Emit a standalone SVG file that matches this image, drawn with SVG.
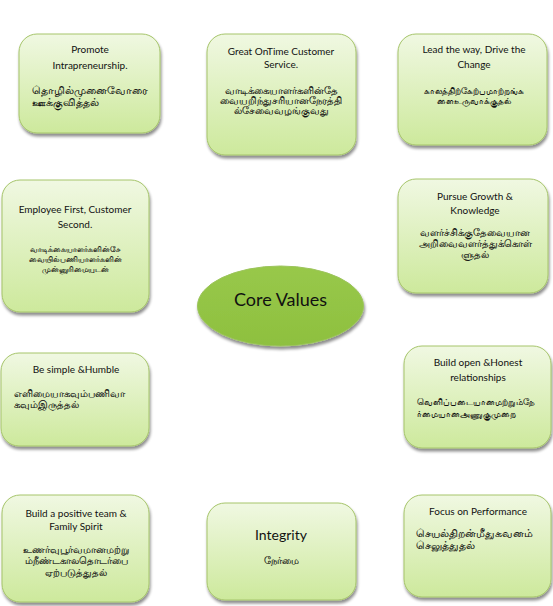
<svg xmlns="http://www.w3.org/2000/svg" width="553" height="606" viewBox="0 0 553 606">
<defs>
<linearGradient id="g" x1="0" y1="0" x2="0" y2="1">
<stop offset="0" stop-color="#f0f8e2"/>
<stop offset="1" stop-color="#cde99c"/>
</linearGradient>
<linearGradient id="ge" x1="0" y1="0" x2="0" y2="1">
<stop offset="0" stop-color="#98c84a"/>
<stop offset="1" stop-color="#8ec03f"/>
</linearGradient>
<filter id="sh" x="-10%" y="-10%" width="125%" height="130%">
<feGaussianBlur in="SourceAlpha" stdDeviation="1.6"/>
<feOffset dx="1" dy="2.5" result="b"/>
<feComponentTransfer><feFuncA type="linear" slope="0.45"/></feComponentTransfer>
<feMerge><feMergeNode/><feMergeNode in="SourceGraphic"/></feMerge>
</filter>
</defs>
<style>
.box{fill:url(#g);stroke:#a5c46a;stroke-width:1;filter:url(#sh)}
.en{font-family:Lato,"Open Sans","Liberation Sans",sans-serif;font-size:10px;fill:#111;text-anchor:middle}
.ta{font-family:"Noto Sans","Liberation Sans",sans-serif;font-size:9px;fill:#111;stroke:#111;stroke-width:0.15;text-anchor:middle}
.tl{text-anchor:start}
</style>
<rect width="553" height="606" fill="#fff"/>
<g id="connectors"></g>
<g id="core">
<ellipse cx="280.5" cy="306" rx="83" ry="40" fill="url(#ge)" stroke="#9cc45c" stroke-width="1" filter="url(#sh)"/>
<text x="280.5" y="306" class="en" style="font-size:18px">Core Values</text>
</g>
<g id="n1">
<rect x="19" y="34" width="141" height="99" rx="18" class="box"/>
<text x="90" y="53" class="en">Promote</text>
<text x="90" y="69" class="en">Intrapreneurship.</text>
<text x="32" y="94" class="ta tl" style="font-size:11px">தொழில்முனைவோரை</text>
<text x="32" y="106" class="ta tl" style="font-size:11px">ஊக்குவித்தல்</text>
</g>
<g id="n2">
<rect x="207" y="34" width="149" height="121" rx="18" class="box"/>
<text x="281" y="55" class="en">Great OnTime Customer</text>
<text x="281" y="68" class="en">Service.</text>
<text x="281" y="94" class="ta" style="font-size:9.5px">வாடிக்கையாளர்களின்தே</text>
<text x="281" y="104" class="ta" style="font-size:9.5px">வையறிந்துசரியானநேரத்தி</text>
<text x="281" y="114" class="ta" style="font-size:9.5px">ல்சேவைவழங்குவது</text>
</g>
<g id="n3">
<rect x="398" y="34" width="149" height="111" rx="18" class="box"/>
<text x="474" y="53" class="en">Lead the way, Drive the</text>
<text x="474" y="68" class="en">Change</text>
<text x="474" y="94" class="ta" style="font-size:9.2px">காலத்திற்கேற்பமாற்றங்க</text>
<text x="474" y="104" class="ta" style="font-size:9.2px">ளைஉருவாக்குதல்</text>
</g>
<g id="n4">
<rect x="2" y="180" width="147" height="132" rx="18" class="box"/>
<text x="75" y="213" class="en">Employee First, Customer</text>
<text x="75" y="228" class="en">Second.</text>
<text x="75" y="252" class="ta" style="font-size:8px">வாடிக்கையாளர்களின்சே</text>
<text x="75" y="262" class="ta" style="font-size:8px">வையில்பணியாளர்களின்</text>
<text x="75" y="272" class="ta" style="font-size:8px">முன்னுரிமையுடன்</text>
</g>
<g id="n5">
<rect x="398" y="179" width="150" height="114" rx="18" class="box"/>
<text x="475" y="200" class="en">Pursue Growth &amp;</text>
<text x="475" y="214" class="en">Knowledge</text>
<text x="475" y="236" class="ta" style="font-size:10.3px">வளர்ச்சிக்குதேவையான</text>
<text x="475" y="247" class="ta" style="font-size:10.3px">அறிவைவளர்த்துக்கொள்</text>
<text x="475" y="258" class="ta" style="font-size:10.3px">ளுதல்</text>
</g>
<g id="n7">
<rect x="1" y="353" width="148" height="93" rx="18" class="box"/>
<text x="76" y="373" class="en">Be simple &amp;Humble</text>
<text x="14" y="397" class="ta tl" style="font-size:10px">எளிமையாகவும்பணிவா</text>
<text x="14" y="408" class="ta tl" style="font-size:10px">கவும்இருத்தல்</text>
</g>
<g id="n8">
<rect x="404" y="346" width="147" height="102" rx="18" class="box"/>
<text x="478" y="366" class="en">Build open &amp;Honest</text>
<text x="478" y="381" class="en">relationships</text>
<text x="417" y="405" class="ta tl" style="font-size:9.3px">வெளிப்படையானமற்றும்நே</text>
<text x="417" y="417" class="ta tl" style="font-size:9.3px">ர்மையானஅணுகுமுறை</text>
</g>
<g id="n9">
<rect x="2" y="495" width="147" height="107" rx="18" class="box"/>
<text x="76" y="517" class="en">Build a positive team &amp;</text>
<text x="76" y="530" class="en">Family Spirit</text>
<text x="76" y="553" class="ta" style="font-size:10px">உணர்வுபூர்வமானமற்று</text>
<text x="76" y="564" class="ta" style="font-size:10px">ம்நீண்டகாலதொடர்பை</text>
<text x="76" y="576" class="ta" style="font-size:10px">ஏற்படுத்துதல்</text>
</g>
<g id="n10">
<rect x="207" y="503" width="149" height="97" rx="18" class="box"/>
<text x="281" y="540" class="en" style="font-size:14px">Integrity</text>
<text x="281" y="564" class="ta" style="font-size:10px">நேர்மை</text>
</g>
<g id="n11">
<rect x="404" y="495" width="147" height="102" rx="18" class="box"/>
<text x="478" y="515" class="en">Focus on Performance</text>
<text x="416" y="537" class="ta tl" style="font-size:10.5px">செயல்திறன்மீதுகவனம்</text>
<text x="416" y="549" class="ta tl" style="font-size:10.5px">செலுத்துதல்</text>
</g>
</svg>
